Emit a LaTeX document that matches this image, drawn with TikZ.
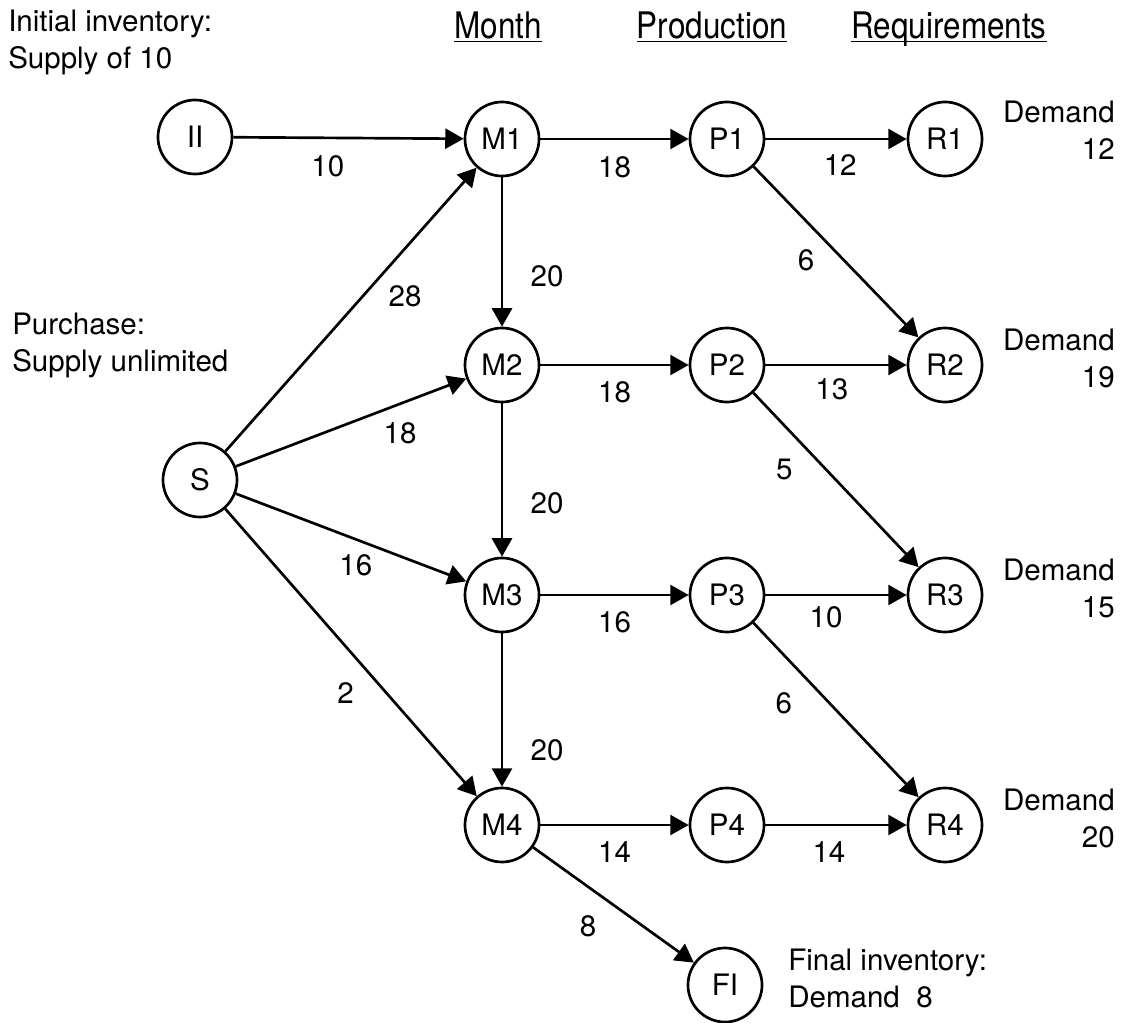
\documentclass[tikz,border=0pt]{standalone}
\usepackage{fontspec}
\setmainfont{TeX Gyre Heros}
\usetikzlibrary{arrows.meta}

\newcommand{\headline}[1]{\underline{\smash{#1}}}

\begin{document}
\begin{tikzpicture}[
        x=0.025cm, y=-0.025cm,
        every node/.style={font=\fontsize{21}{26.3}\selectfont},
        state/.style={circle, draw, line width=1.9pt, minimum size=1.85cm, inner sep=0pt},
        flow/.style={-{Triangle[length=0.46cm, width=0.5cm]}, line width=1.9pt},
        weight/.style={inner sep=0pt},
        note/.style={inner sep=0pt},
        heading/.style={inner sep=0pt, anchor=base, xscale=0.86, transform shape,
            font=\fontsize{26}{30}\selectfont}
    ]

        \useasboundingbox (0,0) rectangle (1132,1023);

        % Column headings
        \node[heading] (month) at (498,39) {\headline{Month}};
        \node[heading] (prod) at (712,39) {\headline{Production}};
        \node[heading] (req) at (949,39) {\headline{Requirements}};

        % Sources
        \node[state] (II) at (195,137) {II};
        \node[state] (S) at (200,480) {S};
        \node[note, align=left, anchor=west] (init) at (8,42) {Initial inventory:\\Supply of 10};
        \node[note, align=left, anchor=west] (purch) at (12,345) {Purchase:\\Supply unlimited};

        % Month, production and requirement nodes
        \foreach \r/\y/\d/\dy in {1/139/12/130, 2/365/19/358, 3/595/15/588, 4/825/20/818}
        {
            \node[state] (M\r) at (502,\y) {M\r};
            \node[state] (P\r) at (727,\y) {P\r};
            \node[state] (R\r) at (945,\y) {R\r};
            \node[note, align=right, anchor=east] (D\r) at (1115,\dy) {Demand\\\d};
        }

        % Final inventory
        \node[state] (FI) at (725,985) {FI};
        \node[note, align=left, anchor=west] (fin) at (788,978) {Final inventory:\\Demand~~8};

        % Flows with their amounts
        \foreach \a/\b/\w/\t/\dx/\dy in {
            II/M1/10/.41/0/28, M1/P1/18/.5/0/28, P1/R1/12/.53/0/26,
            M1/M2/20/.66/45/0, S/M1/28/.62/24/21, P1/R2/6/.44/-20/19,
            M2/P2/18/.5/0/27, P2/R2/13/.47/0/24, S/M2/18/.67/10/26,
            P2/R3/5/.32/-22/21, M2/M3/20/.65/45/0, S/M3/16/.56/-9/22,
            M3/P3/16/.5/0/27, P3/R3/10/.43/0/22, S/M4/2/.57/-23/20,
            P3/R4/6/.33/-24/23, M3/M4/20/.76/45/0, M4/P4/14/.5/0/27,
            P4/R4/14/.45/0/27, M4/FI/8/.46/-19/26}
        {
            \draw[flow] (\a) -- node[weight, pos=\t, shift={(\dx,\dy)}] {\w} (\b);
        }

    \end{tikzpicture}
\end{document}
